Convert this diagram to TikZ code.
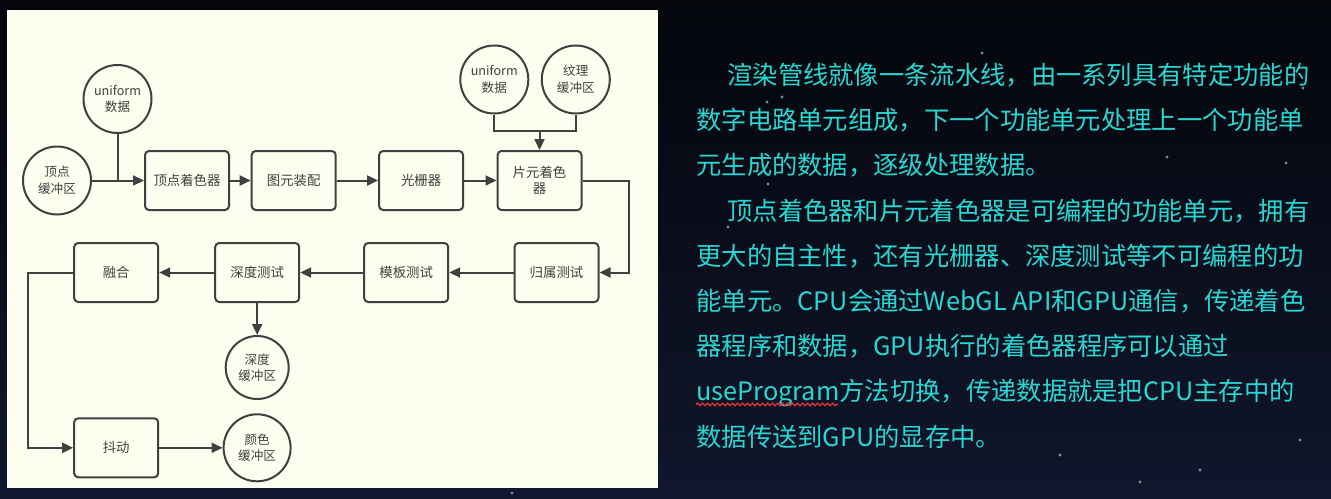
\documentclass[tikz,border=0pt]{standalone}
\usepackage{fontspec}
\setmainfont{Noto Sans CJK SC}
\usetikzlibrary{arrows.meta,positioning,decorations.pathmorphing}

\definecolor{panel}{RGB}{253,254,240}
\definecolor{ink}{RGB}{64,64,64}
\definecolor{note}{RGB}{40,215,210}
\definecolor{skytop}{RGB}{4,6,12}
\definecolor{skybot}{RGB}{16,22,44}
\definecolor{squiggle}{RGB}{215,50,60}
\newcommand\boxfont{\fontsize{6.7pt}{8.3pt}\selectfont}
\newcommand\buffont{\fontsize{6.3pt}{8.3pt}\selectfont}
\newcommand\notefont{\fontsize{12.65pt}{15pt}\selectfont}

\begin{document}
\begin{tikzpicture}[
  x=0.5pt,y=-0.5pt,
  stage/.style={draw=ink,line width=1pt,rounded corners=2pt,fill=panel,
    minimum width=42pt,minimum height=29.5pt,inner sep=1pt,align=center,
    text=ink,font=\boxfont},
  buffer/.style={draw=ink,line width=1pt,circle,fill=panel,minimum size=34pt,
    inner sep=0pt,align=center,text=ink,font=\buffont},
  flow/.style={draw=ink,line width=1pt,-{Triangle[length=5.5pt,width=5pt]}},
  link/.style={draw=ink,line width=1pt},
  textline/.style={anchor=base west,inner sep=0pt,text=note,font=\notefont}
]
  % backdrop and panel
  \useasboundingbox (0,0) rectangle (1331,498);
  \shade[top color=skytop,bottom color=skybot] (0,0) rectangle (1331,498);
  \foreach \sx/\sy in {767/102,768/184,728/227,1167/157,1286/163,1303/88,
      982/53,782/97,1200/470,1140/482,1300/440,1060/455,512/493}
    \fill[white,opacity=0.5] (\sx,\sy) circle (0.8pt);
  \fill[panel] (7,10) rectangle (658,488);

  % first row
  \node[stage] (vs) at (187,180.5) {顶点着色器};
  \node[stage,right=10.35pt of vs] (pa) {图元装配};
  \node[stage,right=20.7pt of pa] (rast) {光栅器};
  \node[stage,right=16.2pt of rast] (fs) {片元着色\\器};
  \node[buffer,left=26pt of vs] (vbuf) {顶点\\缓冲区};
  \node[buffer] (uni1) at (117.5,99) {uniform\\数据};
  \node[buffer] (uni2) at (494.3,79.5) {uniform\\数据};
  \node[buffer,right=5.75pt of uni2] (tex) {纹理\\缓冲区};

  % second row
  \node[stage] (owner) at (556.5,272.5) {归属测试};
  \node[stage,left=32.15pt of owner] (stencil) {模板测试};
  \node[stage,left=31.5pt of stencil] (depth) {深度测试};
  \node[stage,left=27.5pt of depth] (blend) {融合};
  \node[buffer,minimum size=31.5pt,below=16pt of depth] (dbuf) {深度\\缓冲区};
  \node[stage,below=57.15pt of blend] (dither) {抖动};
  \node[buffer,minimum size=33.5pt,right=31.7pt of dither] (cbuf) {颜色\\缓冲区};

  \draw[flow] (vbuf) -- (vs);
  \draw[link] (uni1.south) -- (uni1.south |- vs.west);
  \draw[flow] (vs) -- (pa);
  \draw[flow] (pa) -- (rast);
  \draw[flow] (rast) -- (fs);
  \coordinate[above=9.35pt of fs.north] (merge);
  \draw[link] (uni2.south) |- (merge) -| (tex.south);
  \draw[flow] (merge) -- (fs);
  \coordinate[right=23.3pt of fs.east] (turn);
  \draw[flow] (fs.east) -- (turn) |- (owner.east);
  \draw[flow] (owner) -- (stencil);
  \draw[flow] (stencil) -- (depth);
  \draw[flow] (depth) -- (blend);
  \draw[flow] (depth) -- (dbuf);
  \coordinate[left=22.85pt of blend.west] (back);
  \draw[flow] (blend.west) -- (back) |- (dither.west);
  \draw[flow] (dither) -- (cbuf);

  % notes on the right
  \node[textline] (t1) at (727,84.4) {渲染管线就像一条流水线，由一系列具有特定功能的};
  \node[textline] (t2) at (696,129.6) {数字电路单元组成，下一个功能单元处理上一个功能单};
  \node[textline] (t3) at (696,174.8) {元生成的数据，逐级处理数据。};
  \node[textline] (t4) at (727,220.0) {顶点着色器和片元着色器是可编程的功能单元，拥有};
  \node[textline] (t5) at (696,265.2) {更大的自主性，还有光栅器、深度测试等不可编程的功};
  \node[textline] (t6) at (696,310.4) {能单元。CPU会通过WebGL API和GPU通信，传递着色};
  \node[textline] (t7) at (696,355.6) {器程序和数据，GPU执行的着色器程序可以通过};
  \node[textline] (t8) at (696,400.8) {useProgram方法切换，传递数据就是把CPU主存中的};
  \node[textline] (t9) at (696,446.0) {数据传送到GPU的显存中。};
  \coordinate (wave) at ([yshift=-1.8pt]t8.base west);
  \draw[squiggle,line width=0.7pt,decorate,
    decoration={snake,amplitude=0.6pt,segment length=2.5pt}]
    (wave) -- ++(142,0);
\end{tikzpicture}
\end{document}
